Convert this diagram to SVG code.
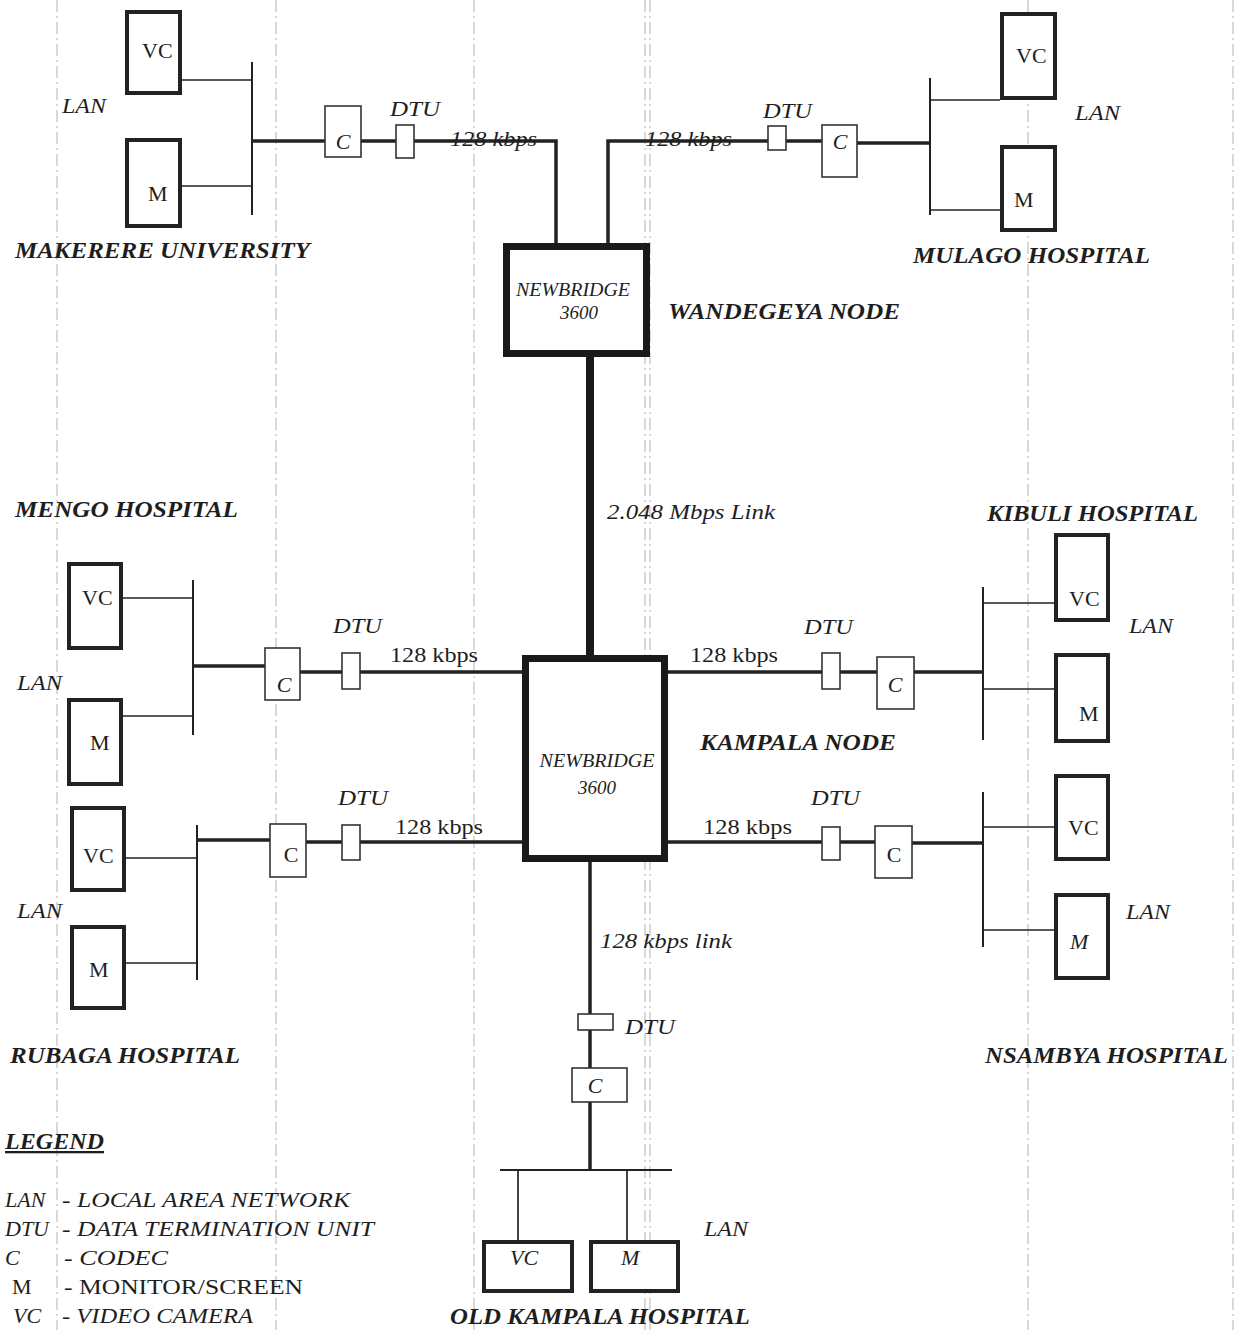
<svg xmlns="http://www.w3.org/2000/svg" width="1241" height="1330" viewBox="0 0 1241 1330">
<style>
text{font-family:"Liberation Serif","Times New Roman",serif;fill:#1e1e1e}
.site{font-weight:bold;font-style:italic;font-size:23px}
.it{font-style:italic;font-size:22px}
.up{font-size:22px}
.nbt{font-style:italic;font-size:19px}
.dev{fill:#fff;stroke:#222;stroke-width:4}
.sm{fill:#fff;stroke:#333;stroke-width:1.6}
.nb{fill:#fff;stroke:#1a1a1a;stroke-width:7}
.thin{stroke:#222;stroke-width:1.7;fill:none}
.bus{stroke:#222;stroke-width:2;fill:none}
.link{stroke:#222;stroke-width:3.5;fill:none}
.trunk{stroke:#1a1a1a;stroke-width:8;fill:none}
.fold{stroke:#777;stroke-width:1;stroke-dasharray:12 4 2 4;opacity:0.55}
</style>
<rect width="1241" height="1330" fill="#fff"/>
<g id="fold-lines">
<line class="fold" x1="57" y1="0" x2="57" y2="1330"/>
<line class="fold" x1="276" y1="0" x2="276" y2="1330"/>
<line class="fold" x1="474" y1="0" x2="474" y2="1330"/>
<line class="fold" x1="645" y1="0" x2="645" y2="1330"/>
<line class="fold" x1="650" y1="0" x2="650" y2="1330"/>
<line class="fold" x1="1028" y1="0" x2="1028" y2="1330"/>
<line class="fold" x1="1233" y1="0" x2="1233" y2="1330"/>
</g>
<g id="connectors">
<line class="bus" x1="252" y1="62" x2="252" y2="215"/>
<line class="thin" x1="182" y1="80" x2="252" y2="80"/>
<line class="thin" x1="182" y1="186" x2="252" y2="186"/>
<line class="link" x1="252" y1="141" x2="325" y2="141"/>
<line class="link" x1="361" y1="141" x2="396" y2="141"/>
<path class="link" d="M414 141 H556 V243"/>
<path class="link" d="M608 243 V141 H768"/>
<line class="link" x1="786" y1="141" x2="822" y2="141"/>
<line class="link" x1="857" y1="143" x2="930" y2="143"/>
<line class="bus" x1="930" y1="78" x2="930" y2="215"/>
<line class="thin" x1="930" y1="100" x2="1000" y2="100"/>
<line class="thin" x1="930" y1="210" x2="1000" y2="210"/>
<line class="trunk" x1="590" y1="357" x2="590" y2="655"/>
<line class="bus" x1="193" y1="580" x2="193" y2="735"/>
<line class="thin" x1="123" y1="598" x2="193" y2="598"/>
<line class="thin" x1="123" y1="716" x2="193" y2="716"/>
<line class="link" x1="193" y1="666" x2="265" y2="666"/>
<line class="link" x1="300" y1="672" x2="342" y2="672"/>
<line class="link" x1="360" y1="672" x2="522" y2="672"/>
<line class="bus" x1="197" y1="825" x2="197" y2="980"/>
<line class="thin" x1="126" y1="858" x2="197" y2="858"/>
<line class="thin" x1="126" y1="963" x2="197" y2="963"/>
<line class="link" x1="197" y1="840" x2="270" y2="840"/>
<line class="link" x1="306" y1="842" x2="342" y2="842"/>
<line class="link" x1="360" y1="842" x2="522" y2="842"/>
<line class="link" x1="668" y1="672" x2="822" y2="672"/>
<line class="link" x1="840" y1="672" x2="877" y2="672"/>
<line class="link" x1="914" y1="672" x2="983" y2="672"/>
<line class="bus" x1="983" y1="587" x2="983" y2="740"/>
<line class="thin" x1="983" y1="603" x2="1054" y2="603"/>
<line class="thin" x1="983" y1="689" x2="1054" y2="689"/>
<line class="link" x1="668" y1="842" x2="822" y2="842"/>
<line class="link" x1="840" y1="842" x2="875" y2="842"/>
<line class="link" x1="912" y1="843" x2="983" y2="843"/>
<line class="bus" x1="983" y1="792" x2="983" y2="947"/>
<line class="thin" x1="983" y1="827" x2="1054" y2="827"/>
<line class="thin" x1="983" y1="930" x2="1054" y2="930"/>
<line class="link" x1="590" y1="862" x2="590" y2="1014"/>
<line class="link" x1="590" y1="1030" x2="590" y2="1068"/>
<line class="link" x1="590" y1="1102" x2="590" y2="1170"/>
<line class="bus" x1="500" y1="1170" x2="672" y2="1170"/>
<line class="thin" x1="518" y1="1170" x2="518" y2="1240"/>
<line class="thin" x1="627" y1="1170" x2="627" y2="1240"/>
</g>
<g id="makerere">
<rect class="dev" x="127" y="12" width="53" height="81"/>
<text class="up" x="142" y="58">VC</text>
<rect class="dev" x="127" y="140" width="53" height="86"/>
<text class="up" x="148" y="201">M</text>
<rect class="sm" x="325" y="106" width="36" height="51"/>
<text class="it" x="343" y="149" text-anchor="middle" font-size="24">C</text>
<rect class="sm" x="396" y="125" width="18" height="33"/>
<text class="it" x="390" y="116" textLength="50" lengthAdjust="spacingAndGlyphs">DTU</text>
<text class="it" x="62" y="113" textLength="44" lengthAdjust="spacingAndGlyphs">LAN</text>
<text class="it" x="450" y="146" textLength="87" lengthAdjust="spacingAndGlyphs">128 kbps</text>
<text class="site" x="15" y="258" textLength="295" lengthAdjust="spacingAndGlyphs">MAKERERE UNIVERSITY</text>
</g>
<g id="wandegeya">
<rect class="nb" x="506.5" y="246.5" width="140" height="107"/>
<text class="nbt" x="573" y="296" text-anchor="middle" textLength="114" lengthAdjust="spacingAndGlyphs">NEWBRIDGE</text>
<text class="nbt" x="579" y="319" text-anchor="middle">3600</text>
<text class="site" x="668" y="319" textLength="232" lengthAdjust="spacingAndGlyphs">WANDEGEYA NODE</text>
</g>
<g id="mulago">
<rect class="sm" x="768" y="126" width="18" height="24"/>
<text class="it" x="763" y="118" textLength="49" lengthAdjust="spacingAndGlyphs">DTU</text>
<rect class="sm" x="822" y="125" width="35" height="52"/>
<text class="it" x="840" y="149" text-anchor="middle" font-size="24">C</text>
<rect class="dev" x="1002" y="14" width="53" height="84"/>
<text class="up" x="1016" y="63">VC</text>
<rect class="dev" x="1002" y="147" width="53" height="83"/>
<text class="up" x="1014" y="207">M</text>
<text class="it" x="1075" y="120" textLength="45" lengthAdjust="spacingAndGlyphs">LAN</text>
<text class="it" x="645" y="146" textLength="87" lengthAdjust="spacingAndGlyphs">128 kbps</text>
<text class="site" x="913" y="263" textLength="237" lengthAdjust="spacingAndGlyphs">MULAGO HOSPITAL</text>
</g>
<g id="trunk-label">
<text class="it" x="607" y="519" textLength="168" lengthAdjust="spacingAndGlyphs">2.048 Mbps Link</text>
</g>
<g id="kampala">
<rect class="nb" x="525.5" y="658.5" width="139" height="200"/>
<text class="nbt" x="597" y="767" text-anchor="middle" textLength="115" lengthAdjust="spacingAndGlyphs">NEWBRIDGE</text>
<text class="nbt" x="597" y="794" text-anchor="middle" font-size="22">3600</text>
<text class="site" x="700" y="750" textLength="196" lengthAdjust="spacingAndGlyphs">KAMPALA NODE</text>
</g>
<g id="mengo">
<text class="site" x="15" y="517" textLength="223" lengthAdjust="spacingAndGlyphs">MENGO HOSPITAL</text>
<rect class="dev" x="69" y="564" width="52" height="84"/>
<text class="up" x="82" y="605">VC</text>
<rect class="dev" x="69" y="700" width="52" height="84"/>
<text class="up" x="90" y="750">M</text>
<text class="it" x="17" y="690" textLength="45" lengthAdjust="spacingAndGlyphs">LAN</text>
<rect class="sm" x="265" y="648" width="35" height="52"/>
<text class="it" x="284" y="692" text-anchor="middle" font-size="24">C</text>
<rect class="sm" x="342" y="653" width="18" height="36"/>
<text class="it" x="333" y="633" textLength="49" lengthAdjust="spacingAndGlyphs">DTU</text>
<text class="up" x="390" y="662" textLength="88" lengthAdjust="spacingAndGlyphs">128 kbps</text>
</g>
<g id="rubaga">
<rect class="dev" x="72" y="808" width="52" height="82"/>
<text class="up" x="83" y="863">VC</text>
<rect class="dev" x="72" y="927" width="52" height="81"/>
<text class="up" x="89" y="977">M</text>
<text class="it" x="17" y="918" textLength="45" lengthAdjust="spacingAndGlyphs">LAN</text>
<rect class="sm" x="270" y="824" width="36" height="53"/>
<text class="up" x="291" y="862" text-anchor="middle" font-size="23">C</text>
<rect class="sm" x="342" y="825" width="18" height="35"/>
<text class="it" x="338" y="805" textLength="50" lengthAdjust="spacingAndGlyphs">DTU</text>
<text class="up" x="395" y="834" textLength="88" lengthAdjust="spacingAndGlyphs">128 kbps</text>
<text class="site" x="10" y="1063" textLength="230" lengthAdjust="spacingAndGlyphs">RUBAGA HOSPITAL</text>
</g>
<g id="kibuli">
<text class="site" x="987" y="521" textLength="211" lengthAdjust="spacingAndGlyphs">KIBULI HOSPITAL</text>
<rect class="dev" x="1056" y="535" width="52" height="85"/>
<text class="up" x="1069" y="606">VC</text>
<rect class="dev" x="1056" y="655" width="52" height="86"/>
<text class="up" x="1079" y="721">M</text>
<text class="it" x="1129" y="633" textLength="44" lengthAdjust="spacingAndGlyphs">LAN</text>
<rect class="sm" x="822" y="653" width="18" height="36"/>
<text class="it" x="804" y="634" textLength="49" lengthAdjust="spacingAndGlyphs">DTU</text>
<rect class="sm" x="877" y="657" width="37" height="52"/>
<text class="it" x="895" y="692" text-anchor="middle" font-size="24">C</text>
<text class="up" x="690" y="662" textLength="88" lengthAdjust="spacingAndGlyphs">128 kbps</text>
</g>
<g id="nsambya">
<rect class="dev" x="1056" y="776" width="52" height="83"/>
<text class="up" x="1068" y="835">VC</text>
<rect class="dev" x="1056" y="895" width="52" height="83"/>
<text class="it" x="1070" y="949">M</text>
<text class="it" x="1126" y="919" textLength="44" lengthAdjust="spacingAndGlyphs">LAN</text>
<rect class="sm" x="822" y="827" width="18" height="33"/>
<text class="it" x="811" y="805" textLength="49" lengthAdjust="spacingAndGlyphs">DTU</text>
<rect class="sm" x="875" y="826" width="37" height="52"/>
<text class="up" x="894" y="862" text-anchor="middle" font-size="23">C</text>
<text class="up" x="703" y="834" textLength="89" lengthAdjust="spacingAndGlyphs">128 kbps</text>
<text class="site" x="985" y="1063" textLength="243" lengthAdjust="spacingAndGlyphs">NSAMBYA HOSPITAL</text>
</g>
<g id="old-kampala">
<text class="it" x="600" y="948" textLength="132" lengthAdjust="spacingAndGlyphs">128 kbps link</text>
<rect class="sm" x="578" y="1014" width="35" height="16"/>
<text class="it" x="625" y="1034" textLength="50" lengthAdjust="spacingAndGlyphs">DTU</text>
<rect class="sm" x="572" y="1068" width="55" height="34"/>
<text class="it" x="595" y="1093" text-anchor="middle" font-size="23">C</text>
<rect class="dev" x="484" y="1242" width="88" height="49"/>
<text class="it" x="510" y="1265">VC</text>
<rect class="dev" x="591" y="1242" width="87" height="49"/>
<text class="it" x="621" y="1265">M</text>
<text class="it" x="704" y="1236" textLength="44" lengthAdjust="spacingAndGlyphs">LAN</text>
<text class="site" x="450" y="1324" textLength="300" lengthAdjust="spacingAndGlyphs">OLD KAMPALA HOSPITAL</text>
</g>
<g id="legend">
<text class="site" x="5" y="1149" text-decoration="underline" textLength="99" lengthAdjust="spacingAndGlyphs">LEGEND</text>
<text class="it" x="5" y="1207" font-size="24">LAN</text>
<text class="it" x="62" y="1207" font-size="24" textLength="288" lengthAdjust="spacingAndGlyphs">- LOCAL AREA NETWORK</text>
<text class="it" x="5" y="1236" font-size="24">DTU</text>
<text class="it" x="62" y="1236" font-size="24" textLength="312" lengthAdjust="spacingAndGlyphs">- DATA TERMINATION UNIT</text>
<text class="it" x="5" y="1265" font-size="24">C</text>
<text class="it" x="64" y="1265" font-size="24" textLength="104" lengthAdjust="spacingAndGlyphs">-  CODEC</text>
<text class="up" x="12" y="1294" font-size="24">M</text>
<text class="up" x="64" y="1294" font-size="24" textLength="239" lengthAdjust="spacingAndGlyphs">-  MONITOR/SCREEN</text>
<text class="it" x="13" y="1323" font-size="24">VC</text>
<text class="it" x="62" y="1323" font-size="24" textLength="191" lengthAdjust="spacingAndGlyphs">- VIDEO CAMERA</text>
</g>
</svg>
